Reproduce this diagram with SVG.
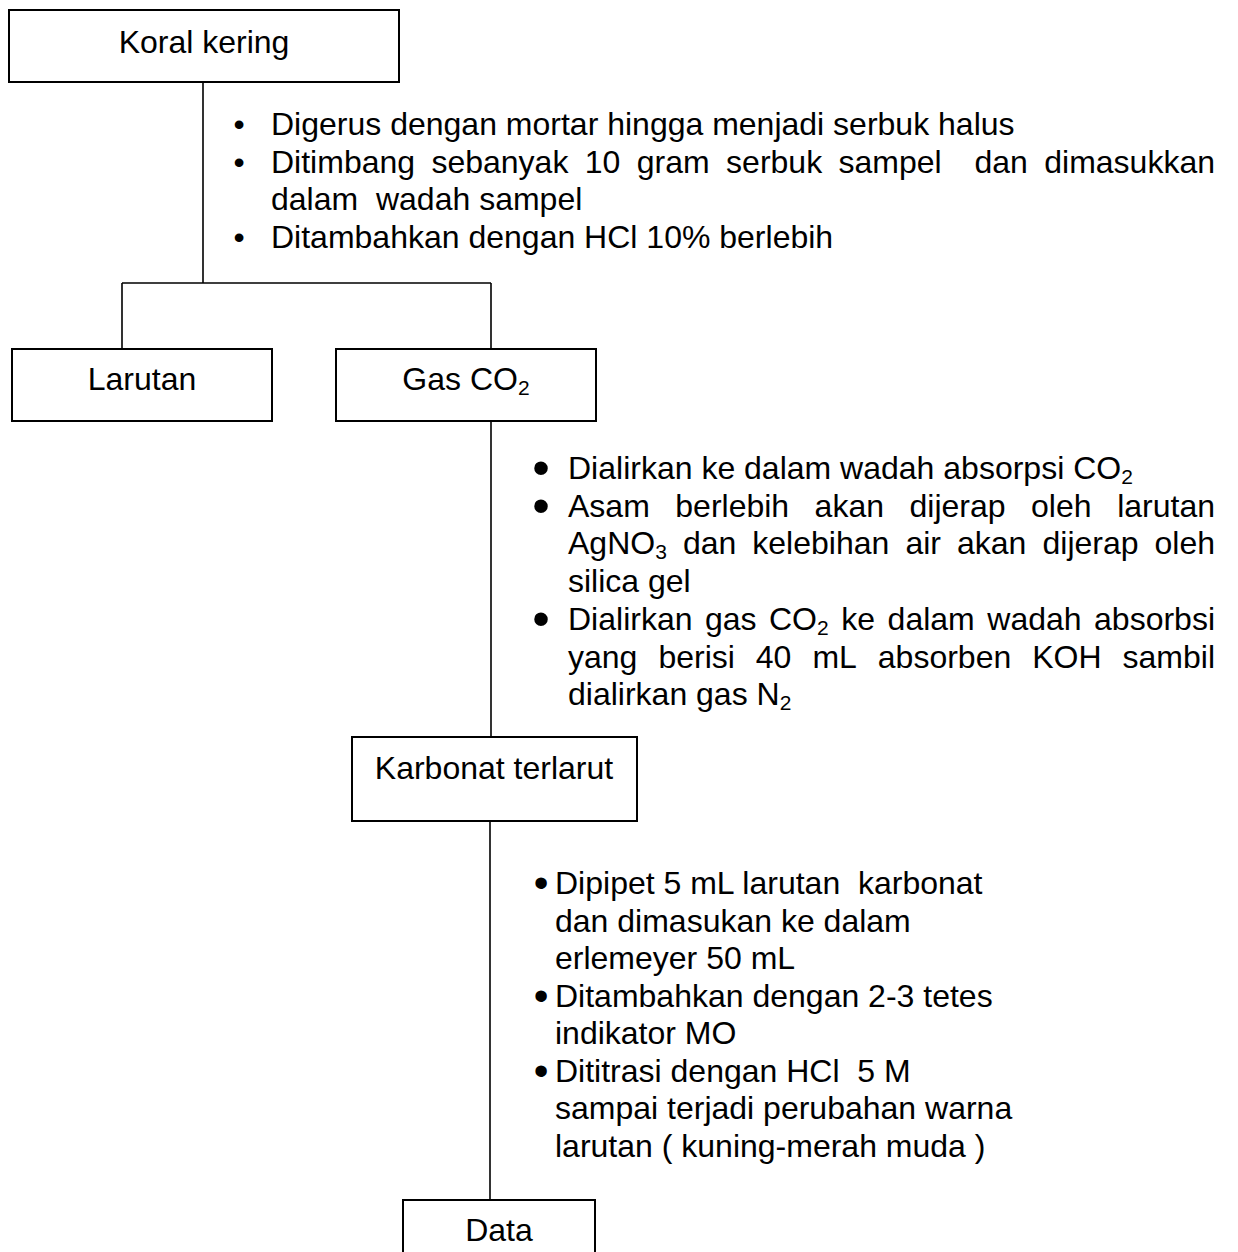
<svg xmlns="http://www.w3.org/2000/svg" width="1238" height="1252" viewBox="0 0 1238 1252">
<style>
text { font-family: "Liberation Sans", Arial, sans-serif; font-size: 32px; fill: #000; }
.box { fill: #fff; stroke: #000; stroke-width: 2; }
.ln { stroke: #000; stroke-width: 1.6; fill: none; }
.c { text-anchor: middle; }
.e { text-anchor: end; }
.sub { font-size: 21px; }
.pre { white-space: pre; }
.b1 { font-size: 32px; text-anchor: middle; }
.b2 { font-size: 50px; text-anchor: middle; }
.b3 { font-size: 42px; text-anchor: middle; }
</style>
<rect width="1238" height="1252" fill="#fff"/>
<g id="connectors">
  <path class="ln" d="M203 82 V283 M122 283 H491 M122 283 V349 M491 283 V349"/>
  <path class="ln" d="M491 421 V737"/>
  <path class="ln" d="M490 821 V1200"/>
</g>
<g id="koral-kering">
  <rect class="box" x="9" y="10" width="390" height="72"/>
  <text class="c" x="204" y="53">Koral kering</text>
</g>
<g id="larutan">
  <rect class="box" x="12" y="349" width="260" height="72"/>
  <text class="c" x="142" y="390">Larutan</text>
</g>
<g id="gas-co2">
  <rect class="box" x="336" y="349" width="260" height="72"/>
  <text class="c" x="466" y="390">Gas CO<tspan class="sub" dy="5">2</tspan></text>
</g>
<g id="karbonat-terlarut">
  <rect class="box" x="352" y="737" width="285" height="84"/>
  <text class="c" x="494" y="779">Karbonat terlarut</text>
</g>
<g id="data">
  <rect class="box" x="403" y="1200" width="192" height="80"/>
  <text class="c" x="499" y="1241">Data</text>
</g>
<g id="steps-1">
  <text class="b1" x="239" y="135">•</text>
  <text x="271" y="135">Digerus dengan mortar hingga menjadi serbuk halus</text>
  <text class="b1" x="239" y="172.5">•</text>
  <text y="172.5"><tspan x="271">Ditimbang</tspan><tspan x="431.4">sebanyak</tspan><tspan x="584.8">10</tspan><tspan x="636.8">gram</tspan><tspan x="726.1">serbuk</tspan><tspan x="838.5">sampel</tspan><tspan x="974.4">dan</tspan></text>
  <text class="e" x="1215" y="172.5">dimasukkan</text>
  <text class="pre" x="271" y="210">dalam  wadah sampel</text>
  <text class="b1" x="239" y="247.5">•</text>
  <text x="271" y="247.5">Ditambahkan dengan HCl 10% berlebih</text>
</g>
<g id="steps-2">
  <text class="b2" x="541" y="485">•</text>
  <text x="568" y="479">Dialirkan ke dalam wadah absorpsi CO<tspan class="sub" dy="5">2</tspan></text>
  <text class="b2" x="541" y="522.7">•</text>
  <text y="516.7"><tspan x="568">Asam</tspan><tspan x="675.3">berlebih</tspan><tspan x="814.6">akan</tspan><tspan x="909.5">dijerap</tspan><tspan x="1031">oleh</tspan></text>
  <text class="e" x="1215" y="516.7">larutan</text>
  <text y="554.4"><tspan x="568">AgNO</tspan><tspan class="sub" dy="5">3</tspan><tspan x="682.9" dy="-5">dan</tspan><tspan x="752.3">kelebihan</tspan><tspan x="905.4">air</tspan><tspan x="957">akan</tspan><tspan x="1042.5">dijerap</tspan></text>
  <text class="e" x="1215" y="554.4">oleh</text>
  <text x="568" y="592">silica gel</text>
  <text class="b2" x="541" y="635.8">•</text>
  <text y="629.8"><tspan x="568">Dialirkan</tspan><tspan x="704.9">gas</tspan><tspan x="769">CO</tspan><tspan class="sub" dy="5">2</tspan><tspan x="841.3" dy="-5">ke</tspan><tspan x="887.6">dalam</tspan><tspan x="987.3">wadah</tspan></text>
  <text class="e" x="1215" y="629.8">absorbsi</text>
  <text y="667.5"><tspan x="568">yang</tspan><tspan x="658.4">berisi</tspan><tspan x="755.8">40</tspan><tspan x="812.4">mL</tspan><tspan x="877.8">absorben</tspan><tspan x="1032.2">KOH</tspan></text>
  <text class="e" x="1215" y="667.5">sambil</text>
  <text x="568" y="705">dialirkan gas N<tspan class="sub" dy="5">2</tspan></text>
</g>
<g id="steps-3">
  <text class="b3" x="541" y="897">•</text>
  <text class="pre" x="555" y="894">Dipipet 5 mL larutan  karbonat</text>
  <text x="555" y="931.5">dan dimasukan ke dalam</text>
  <text x="555" y="969">erlemeyer 50 mL</text>
  <text class="b3" x="541" y="1009.5">•</text>
  <text x="555" y="1006.5">Ditambahkan dengan 2-3 tetes</text>
  <text x="555" y="1044">indikator MO</text>
  <text class="b3" x="541" y="1084.5">•</text>
  <text class="pre" x="555" y="1081.5">Dititrasi dengan HCl  5 M</text>
  <text x="555" y="1119">sampai terjadi perubahan warna</text>
  <text class="pre" x="555" y="1156.5">larutan ( kuning-merah muda )</text>
</g>
</svg>
